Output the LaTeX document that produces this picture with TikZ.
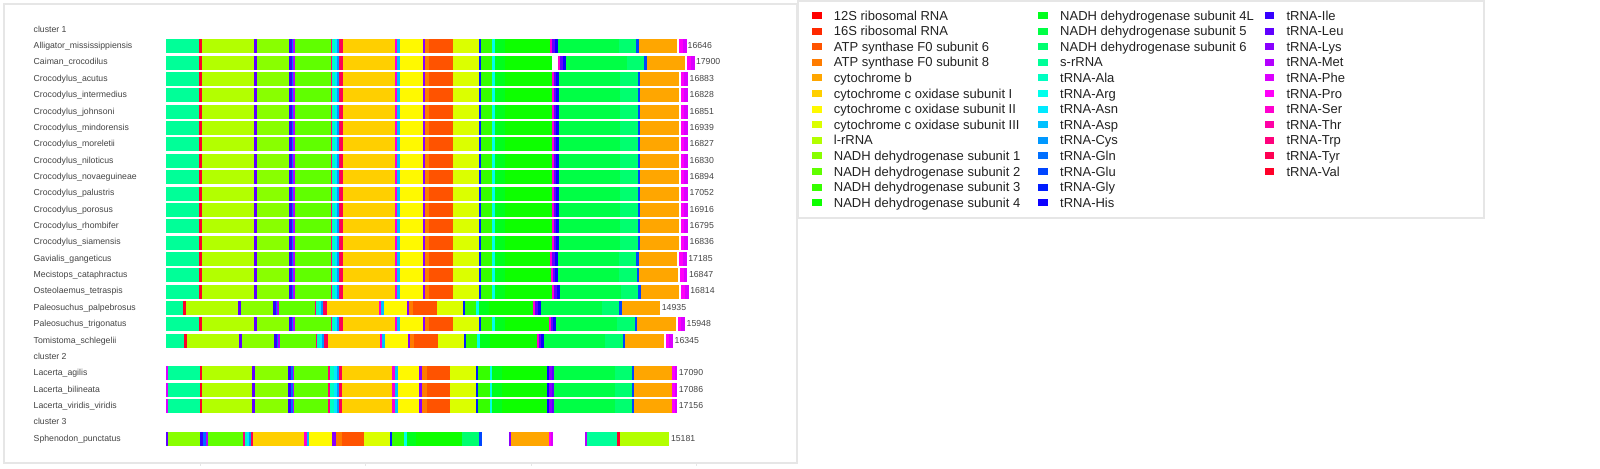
\documentclass[tikz,border=0pt]{standalone}
\usepackage{fontspec}
\setmainfont{Liberation Sans}
\usetikzlibrary{positioning}
% gene colours (hue wheel, one step per gene)
\definecolor{r12S}{HTML}{FF0000}
\definecolor{r16S}{HTML}{FF2900}
\definecolor{atp6}{HTML}{FF5300}
\definecolor{atp8}{HTML}{FF7C00}
\definecolor{cytb}{HTML}{FFA600}
\definecolor{cox1}{HTML}{FFCF00}
\definecolor{cox2}{HTML}{FFF900}
\definecolor{cox3}{HTML}{DBFF00}
\definecolor{lrRNA}{HTML}{B3FF00}
\definecolor{nad1}{HTML}{89FF00}
\definecolor{nad2}{HTML}{60FF00}
\definecolor{nad3}{HTML}{36FF00}
\definecolor{nad4}{HTML}{0DFF00}
\definecolor{nad4L}{HTML}{00FF1C}
\definecolor{nad5}{HTML}{00FF45}
\definecolor{nad6}{HTML}{00FF6F}
\definecolor{srRNA}{HTML}{00FF98}
\definecolor{tAla}{HTML}{00FFC1}
\definecolor{tArg}{HTML}{00FFEB}
\definecolor{tAsn}{HTML}{00EAFF}
\definecolor{tAsp}{HTML}{00C1FF}
\definecolor{tCys}{HTML}{0098FF}
\definecolor{tGln}{HTML}{006FFF}
\definecolor{tGlu}{HTML}{0045FF}
\definecolor{tGly}{HTML}{001CFF}
\definecolor{tHis}{HTML}{0D00FF}
\definecolor{tIle}{HTML}{3600FF}
\definecolor{tLeu}{HTML}{6000FF}
\definecolor{tLys}{HTML}{8900FF}
\definecolor{tMet}{HTML}{B300FF}
\definecolor{tPhe}{HTML}{DB00FF}
\definecolor{tPro}{HTML}{FF00F9}
\definecolor{tSer}{HTML}{FF00CF}
\definecolor{tThr}{HTML}{FF00A6}
\definecolor{tTrp}{HTML}{FF007C}
\definecolor{tTyr}{HTML}{FF0053}
\definecolor{tVal}{HTML}{FF0029}
\definecolor{gmink}{HTML}{222222}
\definecolor{gmgrey}{HTML}{444444}
\definecolor{gmframe}{HTML}{E6E6E6}
\tikzset{
  gm panel/.style={draw=gmframe, line width=0.6pt},
  gm name/.style={anchor=base west, inner sep=0pt, font=\fontsize{4.35}{5}\selectfont, text=gmgrey},
  gm len/.style={gm name},
  gm swatch/.style={minimum width=4.75pt, minimum height=3.5pt, inner sep=0pt, draw=none, anchor=west},
  gm key/.style={inner sep=0pt, text height=6pt, text depth=1.34pt, anchor=west,
    font=\fontsize{6.5}{7.5}\selectfont, text=gmink}
}
% one bar: y, shift, list of start/end/colour
\newcommand\gmsegs[3]{%
  \foreach \a/\b/\c in #3 {\fill[\c] ({\a+#2},{#1-7}) rectangle ({\b+#2},{#1+7});}}
% crocodilian layout (pixel columns)
\def\crocbody{199/201.7/tVal,201.7/254/lrRNA,254/256.7/tLeu,256.7/288.7/nad1,
  288.7/291.5/tIle,291.5/293/tGln,293/295.3/tMet,295.3/330.7/nad2,
  330.7/332.3/tTrp,332.3/335/tAla,335/337.3/tAsn,337.3/339.3/tCys,339.3/342.7/tTyr,
  342.7/395/cox1,395/397.3/tSer,397.3/400/tAsp,400/422.7/cox2,422.7/425.3/tLys,
  425.3/429.3/atp8,429.3/452.7/atp6,452.7/478.7/cox3,478.7/481/tGly,
  481/491.7/nad3,491.7/495/tArg,495/505/nad4L,505/551.7/nad4}
\def\croctail{551.7/553.7/tSer,553.7/556/tLeu,556/559/tHis,559/620/nad5,620/637.7/nad6,
  637.7/640/tGlu,640/678.7/cytb,680.7/684.3/tPro,684.3/688/tPhe}
\def\croctailshort{551.7/553.7/tSer,553.7/556/tLeu,556/559/tHis,559/620/nad5,620/637.7/nad6,
  637.7/640/tGlu,640/678.7/cytb}
% lacertid layout
\def\laclist{166/168/tPhe,168/200/srRNA,200/202.3/tVal,202.3/252.3/lrRNA,252.3/255/tLeu,
  255/287.7/nad1,287.7/290.5/tIle,290.5/292.5/tGln,292.5/294.3/tMet,294.3/328.3/nad2,
  328.3/330.3/tTrp,330.3/333.5/tAla,333.5/336.5/tAsn,337.2/339/tCys,339/341.7/tTyr,
  341.7/392.3/cox1,392.3/395/tSer,395/397.7/tAsp,397.7/419/cox2,419/421.7/tLys,
  421.7/426.7/atp8,426.7/450/atp6,450/476/cox3,476/478.3/tGly,478.3/490/nad3,490/492/tArg,
  492/502/nad4L,502/547.3/nad4,547.3/549.3/tHis,549.3/552/tLys,552/554/tLeu,
  554/615/nad5,615/631.7/nad6,631.7/634/tGlu,634/671.7/cytb,671.7/674.5/tPro,674.5/677.3/tPhe}
% tuatara layout
\def\sphlist{166/168.3/tLeu,168.3/200/nad1,200/203/tIle,203/205.5/tGln,205.5/208.3/tMet,
  208.3/242.7/nad2,242.7/244.7/tTrp,244.7/247/tAla,247/249.3/tAsn,249.3/250.7/tCys,250.7/252.7/tTyr,
  252.7/304/cox1,304/306.5/tSer,306.5/309/tAsp,309/331.7/cox2,331.7/336/tLys,
  336/341.7/atp8,341.7/364/atp6,364/390/cox3,390/392.3/tGly,392.3/404/nad3,404/406.7/tArg,
  406.7/416/nad4L,416/461.7/nad4,461.7/479.3/nad6,479.3/481.5/tGlu,
  509/511/tLys,511/549/cytb,549/551/tPro,551/552.7/tPhe,
  585/586.7/tMet,586.7/617.3/srRNA,617.3/620/tVal,620/669.3/lrRNA}

\begin{document}
\begin{tikzpicture}[x=0.5pt, y=-0.5pt]
  \fill[white] (0,0) rectangle (1600,469);
  \useasboundingbox (0,0) rectangle (1600,469);
  % panels
  \draw[gm panel] (4,4) rectangle (797,463);
  \draw[gm panel] (798,1) rectangle (1484,218);
  \foreach \x in {200,365.5,531,696.5}
    \draw[gmframe] (\x,463) -- (\x,466);

  % cluster headings
  \node[gm name] (cl1) at (33.3,32.2) {cluster 1};
  \node[gm name] (cl2) at (33.3,359.4) {cluster 2};
  \node[gm name] (cl3) at (33.3,424.9) {cluster 3};

  % cluster 1: crocodilians
  \foreach \k/\sp/\len/\bs/\ts/\tl/\xe in {
    1/Alligator\_mississippiensis/16646/0/-1.5/croctail/687.3,
    2/Caiman\_crocodilus/17900/0/6.5/croctail/695.6,
    3/Crocodylus\_acutus/16883/0/0/croctail/689.3,
    4/Crocodylus\_intermedius/16828/0/0/croctail/689.3,
    5/Crocodylus\_johnsoni/16851/0/0/croctail/689.3,
    6/Crocodylus\_mindorensis/16939/0/0/croctail/689.3,
    7/Crocodylus\_moreletii/16827/0/0/croctail/689.3,
    8/Crocodylus\_niloticus/16830/0/0/croctail/689.3,
    9/Crocodylus\_novaeguineae/16894/0/0/croctail/689.3,
    10/Crocodylus\_palustris/17052/0/0/croctail/689.3,
    11/Crocodylus\_porosus/16916/0/0/croctail/689.3,
    12/Crocodylus\_rhombifer/16795/0/0/croctail/689.3,
    13/Crocodylus\_siamensis/16836/0/0/croctail/689.3,
    14/Gavialis\_gangeticus/17185/0/-1.3/croctail/688,
    15/Mecistops\_cataphractus/16847/0/-0.7/croctail/688.6,
    16/Osteolaemus\_tetraspis/16814/0/0.7/croctail/690,
    17/Paleosuchus\_palpebrosus/14935/-16/-18.5/croctailshort/661.5,
    18/Paleosuchus\_trigonatus/15948/0/-3/croctail/686.3,
    19/Tomistoma\_schlegelii/16345/-15/-15/croctail/674.3}
  {
    \pgfmathsetmacro\yy{29.94+16.36*\k}
    \expandafter\let\expandafter\taillist\csname\tl\endcsname
    \fill[srRNA] (166,\yy-7) rectangle ({199+\bs},\yy+7);
    \gmsegs{\yy}{\bs}{\crocbody}
    \gmsegs{\yy}{\ts}{\taillist}
    \node[gm name] (sp\k) at (33.3,\yy+2.3) {\sp};
    \node[gm len] (len\k) at (\xe,\yy+2.3) {\len};
  }

  % cluster 2: lacertids
  \foreach \k/\sp/\len in {21/Lacerta\_agilis/17090,22/Lacerta\_bilineata/17086,
    23/Lacerta\_viridis\_viridis/17156}
  {
    \pgfmathsetmacro\yy{29.94+16.36*\k}
    \gmsegs{\yy}{0}{\laclist}
    \node[gm name] (sp\k) at (33.3,\yy+2.3) {\sp};
    \node[gm len] (len\k) at (678.5,\yy+2.3) {\len};
  }

  % cluster 3: tuatara
  \gmsegs{438.9}{0}{\sphlist}
  \node[gm name] (sp25) at (33.3,441.2) {Sphenodon\_punctatus};
  \node[gm len] (len25) at (670.6,441.2) {15181};

  % legend
  \foreach \c/\t [count=\i from 0] in {r12S/12S ribosomal RNA,r16S/16S ribosomal RNA,
    atp6/ATP synthase F0 subunit 6,atp8/ATP synthase F0 subunit 8,cytb/cytochrome b,
    cox1/cytochrome c oxidase subunit I,cox2/cytochrome c oxidase subunit II,
    cox3/cytochrome c oxidase subunit III,lrRNA/l-rRNA,
    nad1/NADH dehydrogenase subunit 1,nad2/NADH dehydrogenase subunit 2,
    nad3/NADH dehydrogenase subunit 3,nad4/NADH dehydrogenase subunit 4,
    nad4L/NADH dehydrogenase subunit 4L,nad5/NADH dehydrogenase subunit 5,
    nad6/NADH dehydrogenase subunit 6,srRNA/s-rRNA,
    tAla/tRNA-Ala,tArg/tRNA-Arg,tAsn/tRNA-Asn,tAsp/tRNA-Asp,tCys/tRNA-Cys,
    tGln/tRNA-Gln,tGlu/tRNA-Glu,tGly/tRNA-Gly,tHis/tRNA-His,
    tIle/tRNA-Ile,tLeu/tRNA-Leu,tLys/tRNA-Lys,tMet/tRNA-Met,tPhe/tRNA-Phe,
    tPro/tRNA-Pro,tSer/tRNA-Ser,tThr/tRNA-Thr,tTrp/tRNA-Trp,tTyr/tRNA-Tyr,tVal/tRNA-Val}
  {
    \pgfmathtruncatemacro\col{(\i+0.5)/13}
    \pgfmathtruncatemacro\row{\i-13*\col}
    \node[gm swatch, fill=\c] (key\i) at ({811.7+226.3*\col},{15.5+15.6*\row}) {};
    \node[gm key, right=5.75pt of key\i] (keytext\i) {\t};
  }
\end{tikzpicture}
\end{document}
